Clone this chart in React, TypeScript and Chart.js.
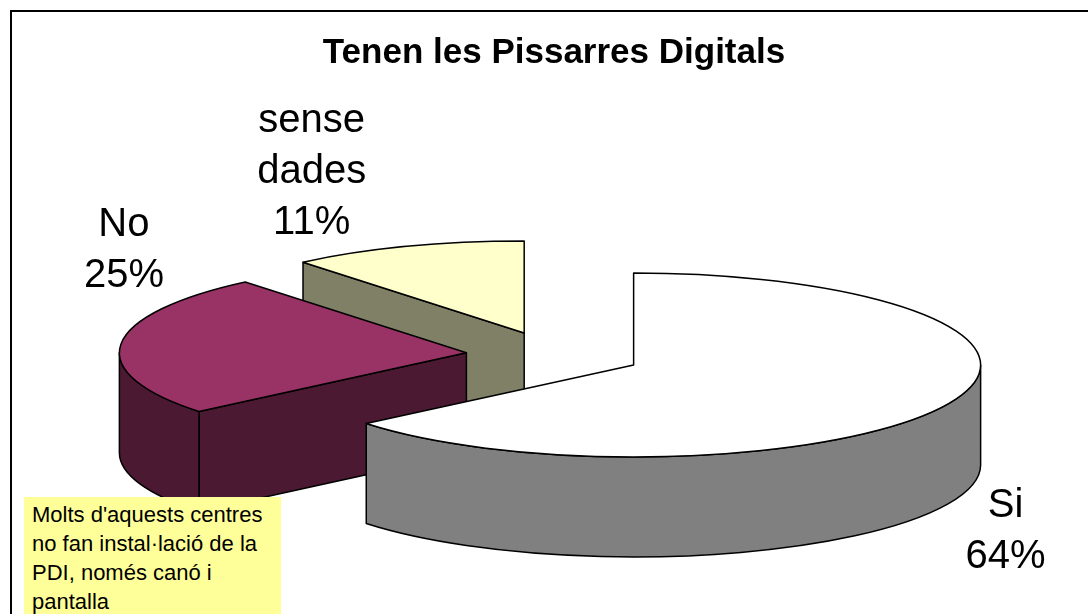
import { useEffect, useRef } from 'react';
import { Chart, registerables } from 'chart.js';

Chart.register(...registerables);

// ---- data ----
const categories = ['Si', 'No', 'sense dades'];
const values = [64, 25, 11];
const topColors = ['#FFFFFF', '#993366', '#FFFFCC'];
const sideColors = ['#808080', '#4C1933', '#808066'];
const chartTitle = 'Tenen les Pissarres Digitals';
const noteLines = ["Molts d'aquests centres", 'no fan instal·lació de la', 'PDI, només canó i', 'pantalla'];

// ---- look ----
const FONT = '"Liberation Sans", Arial, sans-serif';
const TILT = 0.265; // vertical squash of the pie plane
const DEPTH = 100; // thickness of the pie
const EXPLODE = 88; // slice explosion distance
const RADIUS = 347;
const LABEL_FONT = 40;
const LABEL_LH = 51;
const LABEL_NUDGE: [number, number][] = [
  [58, 124],
  [3, -97],
  [-95, -78],
];

function sliceGeom(chart: any) {
  const meta = chart.getDatasetMeta(0);
  return meta.data.map((arc: any, i: number) => {
    const p = arc.getProps(['x', 'y', 'startAngle', 'endAngle', 'outerRadius'], true);
    const off = arc.options.offset || 0;
    const mid = (p.startAngle + p.endAngle) / 2;
    return {
      i,
      mid,
      a0: p.startAngle,
      a1: p.endAngle,
      R: p.outerRadius,
      r: p.outerRadius * TILT,
      cx: p.x + Math.cos(mid) * off,
      cy: p.y + Math.sin(mid) * off * TILT,
      top: arc.options.backgroundColor,
    };
  });
}

const pie3d = {
  id: 'pie3d',
  beforeDraw(chart: any) {
    const ctx = chart.ctx;
    ctx.save();
    ctx.fillStyle = '#fff';
    ctx.fillRect(0, 0, chart.width, chart.height);
    ctx.strokeStyle = '#000';
    ctx.lineWidth = 2;
    ctx.strokeRect(11, 11, chart.width + 40, chart.height + 40);
    ctx.restore();
  },
  beforeDatasetsDraw(chart: any) {
    const ctx = chart.ctx;
    const slices = sliceGeom(chart).sort((a: any, b: any) => Math.sin(a.mid) - Math.sin(b.mid));
    ctx.save();
    ctx.lineWidth = 1.5;
    ctx.strokeStyle = '#000';
    ctx.lineJoin = 'round';
    for (const s of slices) {
      const side = sideColors[s.i];
      const face = (a: number) => {
        const px = s.cx + s.R * Math.cos(a);
        const py = s.cy + s.r * Math.sin(a);
        ctx.beginPath();
        ctx.moveTo(s.cx, s.cy);
        ctx.lineTo(px, py);
        ctx.lineTo(px, py + DEPTH);
        ctx.lineTo(s.cx, s.cy + DEPTH);
        ctx.closePath();
        ctx.fillStyle = side;
        ctx.fill();
        ctx.stroke();
      };
      if (Math.cos(s.a0) < -1e-6) face(s.a0);
      if (Math.cos(s.a1) > 1e-6) face(s.a1);
      for (const k of [0, 2 * Math.PI]) {
        const lo = Math.max(s.a0, k);
        const hi = Math.min(s.a1, k + Math.PI);
        if (hi > lo) {
          ctx.beginPath();
          ctx.ellipse(s.cx, s.cy, s.R, s.r, 0, lo, hi);
          ctx.ellipse(s.cx, s.cy + DEPTH, s.R, s.r, 0, hi, lo, true);
          ctx.closePath();
          ctx.fillStyle = side;
          ctx.fill();
          ctx.stroke();
        }
      }
      ctx.beginPath();
      ctx.moveTo(s.cx, s.cy);
      ctx.ellipse(s.cx, s.cy, s.R, s.r, 0, s.a0, s.a1);
      ctx.closePath();
      ctx.fillStyle = s.top;
      ctx.fill();
      ctx.stroke();
    }
    ctx.restore();
    return false;
  },
  afterDraw(chart: any) {
    const ctx = chart.ctx;
    const slices = sliceGeom(chart);
    ctx.save();
    ctx.font = `${LABEL_FONT}px ${FONT}`;
    ctx.textAlign = 'center';
    ctx.textBaseline = 'alphabetic';
    ctx.fillStyle = '#000';
    for (const s of slices) {
      const ax = s.cx + s.R * Math.cos(s.mid) + LABEL_NUDGE[s.i][0];
      const ay = s.cy + s.r * Math.sin(s.mid) + LABEL_NUDGE[s.i][1];
      const lines = categories[s.i].split(' ').concat(`${values[s.i]}%`);
      const n = lines.length;
      lines.forEach((t: string, j: number) => {
        ctx.fillText(t, ax, ay + (j - (n - 1) / 2) * LABEL_LH + LABEL_FONT * 0.358);
      });
    }
    ctx.restore();
  },
};

export default function App() {
  const ref = useRef<HTMLCanvasElement>(null);
  useEffect(() => {
    const chart = new Chart(ref.current as HTMLCanvasElement, {
      type: 'pie',
      data: {
        labels: categories,
        datasets: [
          {
            data: values,
            backgroundColor: topColors,
            borderColor: '#000',
            borderWidth: 1.5,
            offset: EXPLODE,
            hoverOffset: 0,
            radius: RADIUS,
          } as any,
        ],
      },
      options: {
        animation: false,
        responsive: true,
        maintainAspectRatio: false,
        events: [],
        layout: { padding: { top: 32, left: 20, right: 0, bottom: 24 } },
        plugins: {
          legend: { display: false },
          tooltip: { enabled: false },
          title: {
            display: true,
            text: chartTitle,
            color: '#000',
            font: { family: FONT, size: 35, weight: 'bold', lineHeight: 1.2 },
            padding: { top: 0, bottom: 0 },
          },
        },
      } as any,
      plugins: [pie3d as any],
    });
    return () => chart.destroy();
  }, []);

  return (
    <div style={{ position: 'fixed', left: 0, top: 0, width: 1088, height: 614, overflow: 'hidden', background: '#fff' }}>
      <div style={{ position: 'absolute', left: 0, top: 0, width: 1088, height: 660 }}>
        <canvas ref={ref} />
      </div>
      <div
        style={{
          position: 'absolute',
          left: 24,
          top: 497,
          width: 257,
          height: 130,
          boxSizing: 'border-box',
          padding: '3px 0 0 8px',
          background: '#FFFF99',
          fontFamily: FONT,
          fontSize: 22,
          lineHeight: '29px',
          color: '#000',
          whiteSpace: 'nowrap',
        }}
      >
        {noteLines.map((l) => (
          <div key={l}>{l}</div>
        ))}
      </div>
    </div>
  );
}
